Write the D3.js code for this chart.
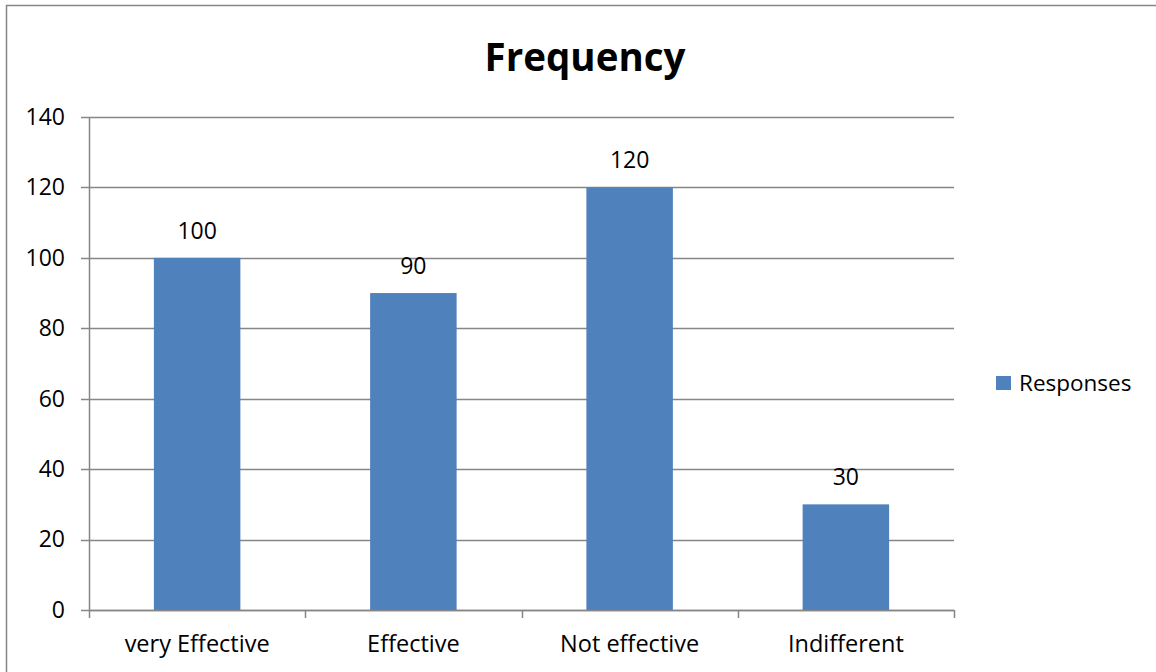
<!DOCTYPE html>
<html>
<head>
<meta charset="utf-8">
<script src="https://cdn.jsdelivr.net/npm/d3@7"></script>
<style>
  html, body { margin: 0; padding: 0; background: #fff; }
  svg { display: block; }
  text { font-family: "Open Sans", "Noto Sans", sans-serif; fill: #000; }
</style>
</head>
<body>
<svg id="chart" width="1156" height="672"></svg>
<script>
// Survey responses by rating
const categories = ["very Effective", "Effective", "Not effective", "Indifferent"];
const responses = [100, 90, 120, 30];
const yTicks = [0, 20, 40, 60, 80, 100, 120, 140];
const seriesName = "Responses";
const chartTitle = "Frequency";

const W = 1156, H = 672;
const margin = { left: 89, right: 202, top: 117, bottom: 62 };
const barColor = "#4F81BD";
const gridColor = "#868686";

const svg = d3.select("#chart");

// outer frame
svg.append("rect")
  .attr("x", 6.5).attr("y", 5.5)
  .attr("width", W + 10).attr("height", H + 10)
  .attr("fill", "none").attr("stroke", "#868686").attr("stroke-width", 1.5);

const x = d3.scaleBand()
  .domain(categories)
  .range([margin.left, W - margin.right])
  .paddingInner(0.6)
  .paddingOuter(0.3);

const y = d3.scaleLinear()
  .domain([0, 140])
  .range([H - margin.bottom, margin.top]);

// horizontal gridlines
svg.append("g")
  .selectAll("line")
  .data(yTicks)
  .join("line")
  .attr("x1", margin.left - 8)
  .attr("x2", W - margin.right)
  .attr("y1", d => Math.round(y(d)) + 0.5)
  .attr("y2", d => Math.round(y(d)) + 0.5)
  .attr("stroke", gridColor)
  .attr("stroke-width", 1.5);

// y axis
const yAxis = svg.append("g")
  .attr("transform", `translate(${margin.left},0)`)
  .call(d3.axisLeft(y).tickValues(yTicks).tickSize(0).tickPadding(24));
yAxis.select(".domain").attr("stroke", gridColor).attr("stroke-width", 1.5);
yAxis.selectAll("text").attr("font-size", 23).style("font-family", "'Open Sans', sans-serif").attr("fill", "#000");

// bars
svg.append("g")
  .selectAll("rect")
  .data(categories)
  .join("rect")
  .attr("x", (d) => x(d))
  .attr("width", x.bandwidth())
  .attr("y", (d, i) => y(responses[i]))
  .attr("height", (d, i) => y(0) - y(responses[i]))
  .attr("fill", barColor);

// x axis with category boundary ticks
const xBoundaries = d3.range(categories.length + 1).map(i => margin.left + i * (W - margin.left - margin.right) / categories.length);
const xg = svg.append("g");
xg.append("line")
  .attr("x1", margin.left).attr("x2", W - margin.right)
  .attr("y1", Math.round(y(0)) + 0.5).attr("y2", Math.round(y(0)) + 0.5)
  .attr("stroke", gridColor).attr("stroke-width", 1.5);
xg.selectAll("line.tick")
  .data(xBoundaries)
  .join("line")
  .attr("class", "tick")
  .attr("x1", d => Math.round(d) + 0.5).attr("x2", d => Math.round(d) + 0.5)
  .attr("y1", y(0)).attr("y2", y(0) + 8)
  .attr("stroke", gridColor).attr("stroke-width", 1.5);
xg.selectAll("text")
  .data(categories)
  .join("text")
  .attr("x", d => x(d) + x.bandwidth() / 2)
  .attr("y", y(0) + 42)
  .attr("text-anchor", "middle")
  .attr("font-size", 23.5)
  .text(d => d);

// value labels
svg.append("g")
  .selectAll("text")
  .data(categories)
  .join("text")
  .attr("x", d => x(d) + x.bandwidth() / 2)
  .attr("y", (d, i) => y(responses[i]) - 19)
  .attr("text-anchor", "middle")
  .attr("font-size", 23)
  .text((d, i) => responses[i]);

// title
svg.append("text")
  .attr("x", 585).attr("y", 71)
  .attr("text-anchor", "middle")
  .attr("font-size", 38.5)
  .attr("font-weight", "bold")
  .text(chartTitle);

// legend
const lg = svg.append("g").attr("transform", "translate(996,376)");
lg.append("rect").attr("width", 15).attr("height", 14).attr("fill", barColor);
lg.append("text").attr("x", 23).attr("y", 15).attr("font-size", 22.5).text(seriesName);
</script>
</body>
</html>
